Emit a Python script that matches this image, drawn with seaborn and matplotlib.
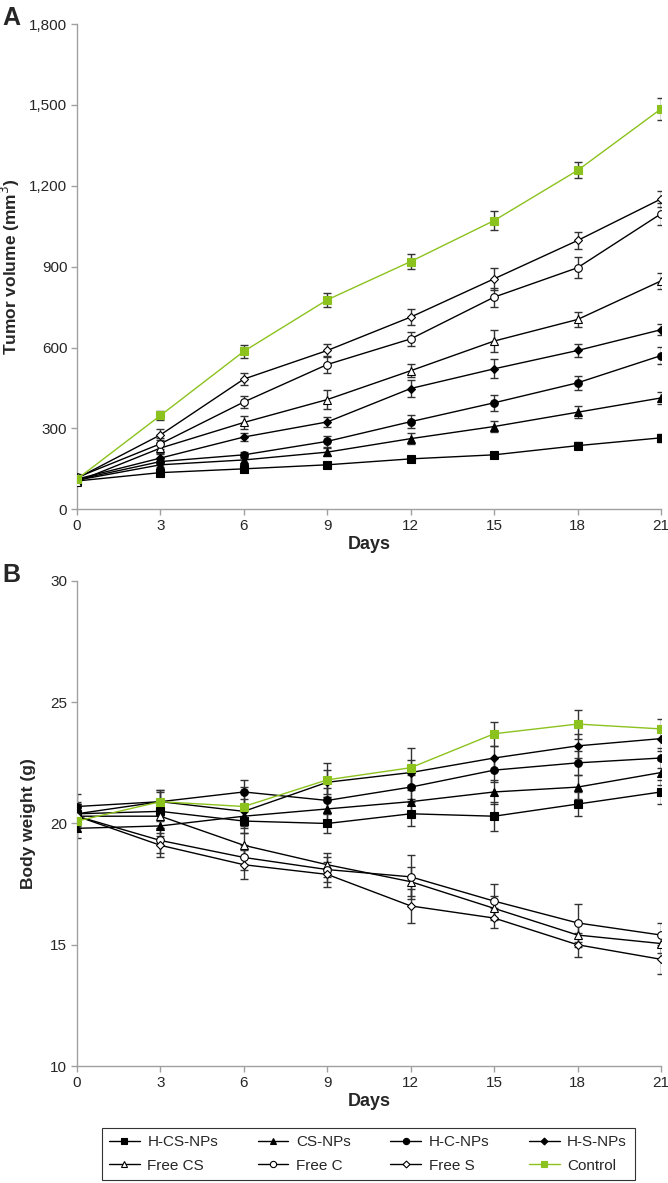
import numpy as np
import pandas as pd
import matplotlib
matplotlib.use("Agg")
import matplotlib.pyplot as plt
from matplotlib.lines import Line2D
from matplotlib.ticker import FuncFormatter
import seaborn as sns

# Данные
days = [0, 3, 6, 9, 12, 15, 18, 21]
groups = ["H-CS-NPs", "CS-NPs", "H-C-NPs", "H-S-NPs", "Free CS", "Free C", "Free S", "Control"]

# A: объём опухоли (мм3)
vol_hcs = [105, 136, 150, 165, 187, 202, 236, 265]
vol_cs = [108, 165, 183, 212, 262, 307, 360, 413]
vol_hc = [110, 177, 202, 252, 325, 395, 469, 570]
vol_hs = [112, 190, 268, 324, 448, 521, 589, 666]
vol_fcs = [103, 227, 322, 407, 514, 624, 704, 847]
vol_fc = [118, 243, 398, 537, 632, 787, 896, 1096]
vol_fs = [115, 276, 483, 589, 713, 855, 997, 1151]
vol_ctrl = [112, 348, 586, 777, 919, 1071, 1257, 1485]

err_hcs = [8, 8, 10, 10, 10, 12, 12, 14]
err_cs = [10, 10, 12, 15, 20, 20, 22, 22]
err_hc = [10, 10, 12, 20, 25, 30, 25, 32]
err_hs = [10, 15, 15, 20, 30, 35, 25, 20]
err_fcs = [12, 20, 25, 35, 25, 40, 28, 30]
err_fc = [12, 20, 22, 30, 25, 35, 38, 40]
err_fs = [12, 20, 22, 25, 30, 40, 30, 30]
err_ctrl = [12, 15, 25, 25, 28, 35, 30, 40]

# B: масса тела (г)
bw_hcs = [20.4, 20.5, 20.1, 20.0, 20.4, 20.3, 20.8, 21.3]
bw_cs = [19.8, 19.9, 20.3, 20.6, 20.9, 21.3, 21.5, 22.1]
bw_hc = [20.7, 20.9, 21.3, 20.95, 21.5, 22.2, 22.5, 22.7]
bw_hs = [20.4, 20.9, 20.5, 21.7, 22.1, 22.7, 23.2, 23.5]
bw_fcs = [20.3, 20.3, 19.1, 18.3, 17.6, 16.5, 15.4, 15.05]
bw_fc = [20.3, 19.3, 18.6, 18.1, 17.8, 16.8, 15.9, 15.4]
bw_fs = [20.3, 19.1, 18.3, 17.9, 16.6, 16.1, 15.0, 14.4]
bw_ctrl = [20.1, 20.9, 20.7, 21.8, 22.3, 23.7, 24.1, 23.9]

bwe_hcs = [0.4, 0.4, 0.5, 0.4, 0.5, 0.6, 0.5, 0.5]
bwe_cs = [0.4, 0.4, 0.5, 0.5, 0.5, 0.5, 0.5, 0.5]
bwe_hc = [0.5, 0.4, 0.5, 0.5, 0.5, 0.5, 0.5, 0.4]
bwe_hs = [0.5, 0.5, 0.5, 0.5, 0.5, 0.5, 0.5, 0.5]
bwe_fcs = [0.5, 0.5, 0.5, 0.5, 0.6, 0.5, 0.5, 0.4]
bwe_fc = [0.5, 0.5, 0.5, 0.5, 0.9, 0.7, 0.8, 0.5]
bwe_fs = [0.5, 0.5, 0.6, 0.5, 0.7, 0.4, 0.5, 0.6]
bwe_ctrl = [0.4, 0.5, 0.8, 0.7, 0.8, 0.5, 0.6, 0.4]

volumes = [vol_hcs, vol_cs, vol_hc, vol_hs, vol_fcs, vol_fc, vol_fs, vol_ctrl]
vol_errs = [err_hcs, err_cs, err_hc, err_hs, err_fcs, err_fc, err_fs, err_ctrl]
weights = [bw_hcs, bw_cs, bw_hc, bw_hs, bw_fcs, bw_fc, bw_fs, bw_ctrl]
weight_errs = [bwe_hcs, bwe_cs, bwe_hc, bwe_hs, bwe_fcs, bwe_fc, bwe_fs, bwe_ctrl]

# Стили маркеров для групп
green = "#8cc21e"
styles = {
    "H-CS-NPs": dict(marker="s", mfc="black", color="black", ms=5.5),
    "CS-NPs": dict(marker="^", mfc="black", color="black", ms=6),
    "H-C-NPs": dict(marker="o", mfc="black", color="black", ms=5.5),
    "H-S-NPs": dict(marker="D", mfc="black", color="black", ms=4.5),
    "Free CS": dict(marker="^", mfc="white", color="black", ms=6),
    "Free C": dict(marker="o", mfc="white", color="black", ms=5.5),
    "Free S": dict(marker="D", mfc="white", color="black", ms=4.5),
    "Control": dict(marker="s", mfc=green, color=green, ms=5.5),
}

sns.set_style("white")
plt.rcParams["font.family"] = ["Liberation Sans", "DejaVu Sans"]


def draw_panel(ax, values, errors):
    """Рисует линии с маркерами и планками погрешностей"""
    for name, vals, errs in zip(groups, values, errors):
        st = styles[name]
        df = pd.DataFrame({"day": days, "value": vals})
        ax.errorbar(days, vals, yerr=errs, fmt="none", ecolor="#333333",
                    elinewidth=1, capsize=3, capthick=1, zorder=2)
        sns.lineplot(data=df, x="day", y="value", ax=ax, color=st["color"],
                     linewidth=1, marker=st["marker"], markersize=st["ms"],
                     markerfacecolor=st["mfc"], markeredgecolor="black" if name != "Control" else green,
                     markeredgewidth=0.8, zorder=3)
    ax.set_xlim(0, 21)
    ax.set_xticks(days)
    for side in ["top", "right"]:
        ax.spines[side].set_visible(False)
    for side in ["left", "bottom"]:
        ax.spines[side].set_color("#a0a0a0")
        ax.spines[side].set_linewidth(1)
    ax.tick_params(axis="both", which="both", direction="out", length=4,
                   width=1, color="#a0a0a0", labelsize=11, pad=3,
                   left=True, bottom=True)
    ax.set_xlabel("Days", fontsize=13, fontweight="bold", labelpad=2)


fig = plt.figure(figsize=(6.68, 11.83), dpi=100)
ax_a = fig.add_axes([0.1153, 0.5695, 0.8742, 0.4102])
ax_b = fig.add_axes([0.1153, 0.0989, 0.8742, 0.4100])

# Панель A
draw_panel(ax_a, volumes, vol_errs)
ax_a.set_ylim(0, 1800)
ax_a.set_yticks(np.arange(0, 1801, 300))
ax_a.yaxis.set_major_formatter(FuncFormatter(lambda v, p: f"{int(v):,}"))
ax_a.set_ylabel("Tumor volume (mm$^3$)", fontsize=12.5, fontweight="bold")
ax_a.yaxis.set_label_coords(-0.094, 0.5)

# Панель B
draw_panel(ax_b, weights, weight_errs)
ax_b.set_ylim(10, 30)
ax_b.set_yticks([10, 15, 20, 25, 30])
ax_b.set_ylabel("Body weight (g)", fontsize=12.5, fontweight="bold")
ax_b.yaxis.set_label_coords(-0.07, 0.5)

fig.text(0.003, 0.995, "A", fontsize=18, fontweight="bold", va="top", ha="left")
fig.text(0.003, 0.524, "B", fontsize=18, fontweight="bold", va="top", ha="left")

# Общая легенда (порядок по строкам)
handles = []
for name in groups:
    st = styles[name]
    handles.append(Line2D([0], [0], color=st["color"], lw=1, marker=st["marker"],
                          markersize=st["ms"] - 1, markerfacecolor=st["mfc"],
                          markeredgecolor="black" if name != "Control" else green,
                          markeredgewidth=0.8))
order = [0, 4, 1, 5, 2, 6, 3, 7]
leg = fig.legend([handles[i] for i in order], [groups[i] for i in order], ncol=4,
                 loc="center", bbox_to_anchor=(0.551, 0.0245), frameon=True,
                 fancybox=False, fontsize=11, handlelength=2.0, handletextpad=0.5,
                 columnspacing=2.6, borderpad=0.5, labelspacing=0.6)
leg.get_frame().set_edgecolor("black")
leg.get_frame().set_linewidth(0.8)

fig.savefig("out.png", dpi=100)
